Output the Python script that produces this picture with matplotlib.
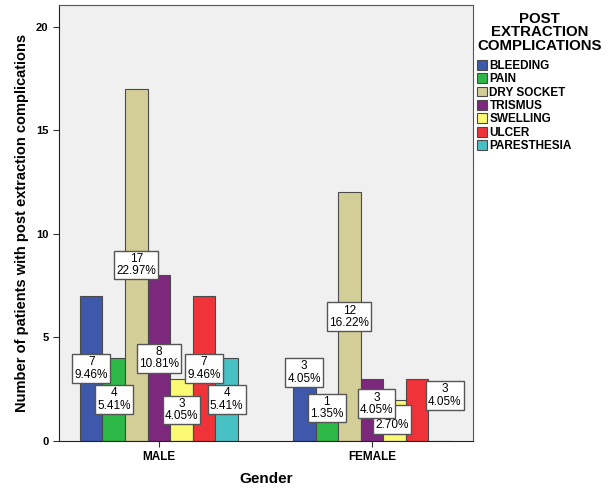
import matplotlib.pyplot as plt
import numpy as np

plt.rcParams['font.family'] = ['Liberation Sans', 'DejaVu Sans']

genders = ['MALE', 'FEMALE']
complications = ['BLEEDING', 'PAIN', 'DRY SOCKET', 'TRISMUS', 'SWELLING', 'ULCER', 'PARESTHESIA']
male = [7, 4, 17, 8, 3, 7, 4]
female = [3, 1, 12, 3, 2, 3, 0]
male_pct = ['9.46%', '5.41%', '22.97%', '10.81%', '4.05%', '9.46%', '5.41%']
female_pct = ['4.05%', '1.35%', '16.22%', '4.05%', '2.70%', '4.05%', '']

colors = ['#3E58AC', '#2EB848', '#D3CE97', '#7B287D', '#FBF874', '#EF3339', '#48C1C5']

fig = plt.figure(figsize=(6.16, 4.91), dpi=100)
ax = fig.add_axes([0.0958, 0.1018, 0.672, 0.888])
ax.set_facecolor('#F0F0F0')

w = 0.106
x = np.arange(len(genders))
counts = np.array([male, female])
pcts = [male_pct, female_pct]

# label nudges (dx in bar widths, dy in data units) where SPSS moved boxes apart
nudge = {(1, 0): (0, 1.8), (1, 1): (0, 1.1), (1, 3): (0.2, 0.3),
         (1, 4): (-0.1, 0.05), (1, 5): (1.22, 0.7)}
on_top = {(1, 3)}

for j, comp in enumerate(complications):
    pos = x + (j - 3) * w
    vals = counts[:, j]
    ax.bar(pos, vals, w, color=colors[j], edgecolor='#4A4A4A', linewidth=0.8,
           label=comp, zorder=2)
    for i in range(len(genders)):
        if vals[i] == 0:
            continue
        dx, dy = nudge.get((i, j), (0, 0))
        tx = pos[i] + dx * w
        ty = vals[i] / 2 + dy
        ax.text(tx, ty, '%d\n%s' % (vals[i], pcts[i][j]), ha='center', va='center',
                fontsize=8.5, linespacing=1.05, zorder=5 if (i, j) in on_top else 4,
                bbox=dict(boxstyle='square,pad=0.18', fc='white', ec='#555555', lw=1))
        if (i, j) == (1, 5):
            ax.plot([pos[i] + w / 2, tx - 0.07], [vals[i] / 2 + 0.5, vals[i] / 2 + 0.5],
                    color='#555555', lw=0.8, zorder=3)

ax.set_xlim(-0.469, 1.474)
ax.set_ylim(0, 21.05)
ax.set_xticks(x)
ax.set_xticklabels(genders, fontsize=8.5, fontweight='bold')
ax.set_yticks([0, 5, 10, 15, 20])
ax.tick_params(axis='y', labelsize=8, length=4, color='#333333')
ax.tick_params(axis='x', length=4, color='#333333')
for t in ax.get_yticklabels():
    t.set_fontweight('bold')
for s in ax.spines.values():
    s.set_color('#555555')
ax.spines['bottom'].set_color('#222222')
ax.spines['left'].set_color('#222222')

ax.set_xlabel('Gender', fontsize=11, fontweight='bold', labelpad=6)
ax.set_ylabel('Number of patients with post extraction complications', fontsize=10.5,
              fontweight='bold', labelpad=5)

leg = fig.legend(loc='upper left', bbox_to_anchor=(0.759, 0.995), frameon=False,
                 title='POST\nEXTRACTION\nCOMPLICATIONS', fontsize=8.5,
                 handlelength=0.85, handleheight=0.9, handletextpad=0.2,
                 labelspacing=0.12, borderpad=0.3)
leg.get_title().set_fontweight('bold')
leg.get_title().set_fontsize(10.8)
leg.get_title().set_linespacing(0.95)
leg._legend_box.align = 'left'
leg._legend_box.sep = 5
leg.get_title().set_ha('center')
for t in leg.get_texts():
    t.set_fontweight('bold')
for p in leg.get_patches():
    p.set_edgecolor('#4A4A4A')

plt.savefig('out.png', dpi=100)
